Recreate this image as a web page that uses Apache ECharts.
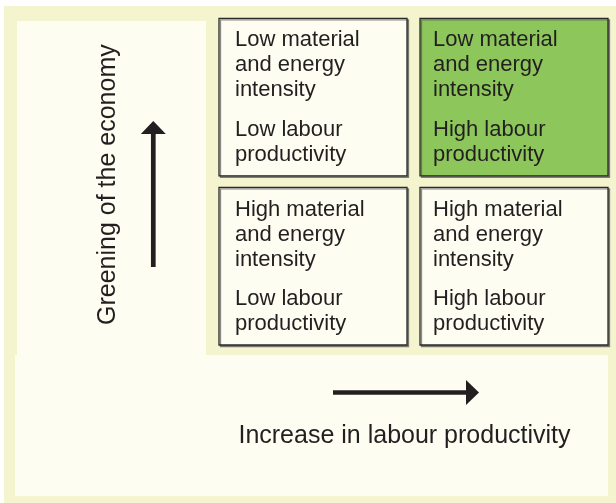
<!DOCTYPE html>
<html>
    <head>
        <meta charset="utf-8">
        <script src="https://cdn.jsdelivr.net/npm/echarts@6/dist/echarts.min.js"></script>
        <style>
            html, body { margin: 0; padding: 0; background: #fff; }
            #main { width: 616px; height: 503px; }
        </style>
    </head>
    <body>
        <div id="main"></div>
        <script>

        // columns: labour productivity, rows: material and energy intensity
        var columns = ['Low labour productivity', 'High labour productivity'];
        var rows = ['High material and energy intensity', 'Low material and energy intensity'];
        var intensityText = ['High material\nand energy\nintensity', 'Low material\nand energy\nintensity'];
        var productivityText = ['Low labour\nproductivity', 'High labour\nproductivity'];
        // [column, row, highlighted]
        var cells = [
            [0, 1, 0],
            [1, 1, 1],
            [0, 0, 0],
            [1, 0, 0]
        ];
        var xTitle = 'Increase in labour productivity';
        var yTitle = 'Greening of the economy';

        var myChart = echarts.init(document.getElementById('main'));

        var FONT = '"Liberation Sans", Arial, sans-serif';
        var TEXT = '#231f20';

        function renderCell(params, api) {
            var c = api.value(0);
            var r = api.value(1);
            var hi = api.value(2);
            var center = api.coord([c, r]);
            var size = api.size([1, 1]);
            var x = center[0] - size[0] / 2 + 6.5;
            var y = center[1] - size[1] / 2 + 5.8;
            var w = size[0] - 13;
            var h = size[1] - 11.6;
            var pad = c === 0 ? 16 : 13;
            return {
                type: 'group',
                children: [
                    {
                        type: 'rect',
                        shape: { x: x, y: y, width: w, height: h },
                        style: {
                            fill: hi ? '#8dc65b' : '#fdfdf1',
                            stroke: '#2a2a2a',
                            lineWidth: 1.3,
                            shadowColor: 'rgba(90,90,90,0.7)',
                            shadowBlur: 0,
                            shadowOffsetX: 1.5,
                            shadowOffsetY: 1.5
                        }
                    },
                    {
                        type: 'text',
                        style: {
                            text: intensityText[r],
                            x: x + pad,
                            y: y + 9.5,
                            font: '22px ' + FONT,
                            fill: TEXT,
                            lineHeight: 25,
                            verticalAlign: 'top'
                        }
                    },
                    {
                        type: 'text',
                        style: {
                            text: productivityText[c],
                            x: x + pad,
                            y: y + 99.5,
                            font: '22px ' + FONT,
                            fill: TEXT,
                            lineHeight: 24.5,
                            verticalAlign: 'top'
                        }
                    }
                ]
            };
        }

        option = {
            animation: false,
            backgroundColor: '#ffffff',
            textStyle: { fontFamily: FONT },
            graphic: [
                // outer pale panel
                { type: 'rect', z: -10, shape: { x: 4, y: 6, width: 612, height: 497 }, style: { fill: '#f4f4cf' } },
                // left cream panel
                { type: 'rect', z: -9, shape: { x: 17, y: 21, width: 189, height: 335 }, style: { fill: '#fdfdf1' } },
                // bottom cream panel
                { type: 'rect', z: -9, shape: { x: 15, y: 355, width: 593, height: 141 }, style: { fill: '#fdfdf1' } },
                // up arrow
                { type: 'line', shape: { x1: 153.3, y1: 267, x2: 153.3, y2: 133 }, style: { stroke: '#231f20', lineWidth: 4.7 } },
                { type: 'polygon', shape: { points: [[140.8, 134], [165.8, 134], [153.3, 121]] }, style: { fill: '#231f20' } },
                // right arrow
                { type: 'line', shape: { x1: 333, y1: 392.5, x2: 467, y2: 392.5 }, style: { stroke: '#231f20', lineWidth: 4.7 } },
                { type: 'polygon', shape: { points: [[466, 380], [466, 405], [479, 392.5]] }, style: { fill: '#231f20' } }
            ],
            grid: {
                left: 212.5,
                right: 1.5,
                top: 12.5,
                bottom: 152.2
            },
            xAxis: {
                type: 'category',
                data: columns,
                name: xTitle,
                nameLocation: 'middle',
                nameGap: 73,
                nameTextStyle: { fontSize: 25, color: TEXT, fontFamily: FONT, padding: [0, 18, 0, 0] },
                axisLine: { show: false },
                axisTick: { show: false },
                axisLabel: { show: false },
                splitLine: { show: false }
            },
            yAxis: {
                type: 'category',
                data: rows,
                name: yTitle,
                nameLocation: 'middle',
                nameGap: 92,
                nameTextStyle: { fontSize: 25, color: TEXT, fontFamily: FONT, padding: [0, 6, 0, 0] },
                axisLine: { show: false },
                axisTick: { show: false },
                axisLabel: { show: false },
                splitLine: { show: false }
            },
            series: [
                {
                    type: 'custom',
                    renderItem: renderCell,
                    data: cells,
                    silent: true
                }
            ]
        };

        myChart.setOption(option);

        </script>
    </body>
</html>
